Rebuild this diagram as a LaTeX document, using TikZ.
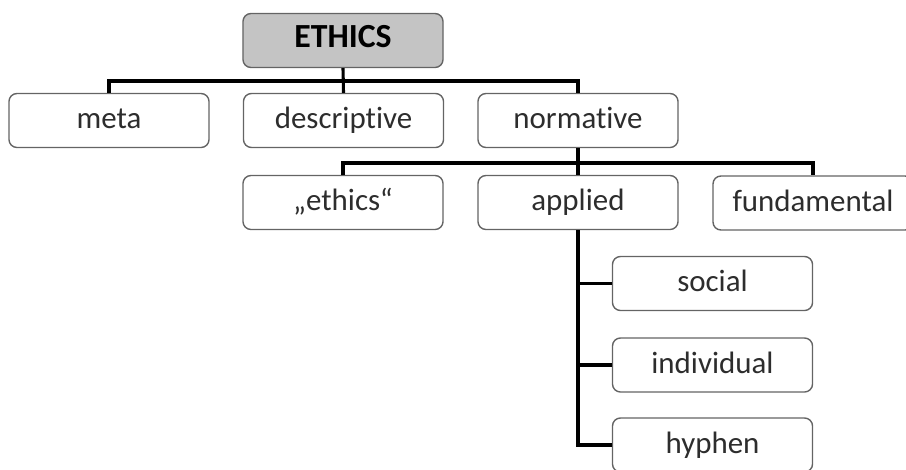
\documentclass[tikz,border=0pt]{standalone}
\usepackage{fontspec}
\setmainfont{Carlito}[Ligatures=NoCommon]
\definecolor{ethicsborder}{RGB}{100,100,100}
\definecolor{ethicsshade}{RGB}{196,196,196}
\definecolor{ethicstext}{RGB}{45,45,45}

\begin{document}
\begin{tikzpicture}[x=0.025cm,y=-0.025cm,
    category/.style={draw=ethicsborder,fill=white,line width=1pt,
      rounded corners=0.2cm,minimum width=5cm,minimum height=1.35cm,
      text=ethicstext,font=\fontsize{22}{24}\selectfont,inner sep=0pt,
      text height=2.4ex,text depth=0ex},
    root/.style={category,fill=ethicsshade,text=black,
      font=\fontsize{24}{26}\selectfont\bfseries,text height=2.2ex},
    link/.style={line width=2.2pt,black}]
    \useasboundingbox (0,0) rectangle (906,469);
    % top
    \node[root] (ethics) at (343,40.5) {ETHICS};
    % first level
    \node[category] (meta) at (109,120.5) {meta};
    \node[category] (descriptive) at (343.5,120.5) {descriptive};
    \node[category] (normative) at (578,120.5) {normative};
    % second level
    \node[category] (quoted) at (343,202.5) {„ethics“};
    \node[category] (applied) at (578,202.5) {applied};
    \node[category] (fundamental) at (813,203) {fundamental};
    % third level
    \node[category] (social) at (712.5,283.5) {social};
    \node[category] (individual) at (712.5,365) {individual};
    \node[category] (hyphen) at (712.5,445) {hyphen};
    % connectors
    \coordinate (busone) at (343,81);
    \coordinate (bustwo) at (578,163);
    \draw[link] (ethics.south) -- (descriptive.north);
    \draw[link] (meta.north) |- (busone) -| (normative.north);
    \draw[link] (normative.south) -- (applied.north);
    \draw[link] (quoted.north) |- (bustwo) -| (fundamental.north);
    \draw[link] (applied.south) |- (social.west);
    \draw[link] (applied.south) |- (individual.west);
    \draw[link] (applied.south) |- (hyphen.west);
  \end{tikzpicture}
\end{document}
